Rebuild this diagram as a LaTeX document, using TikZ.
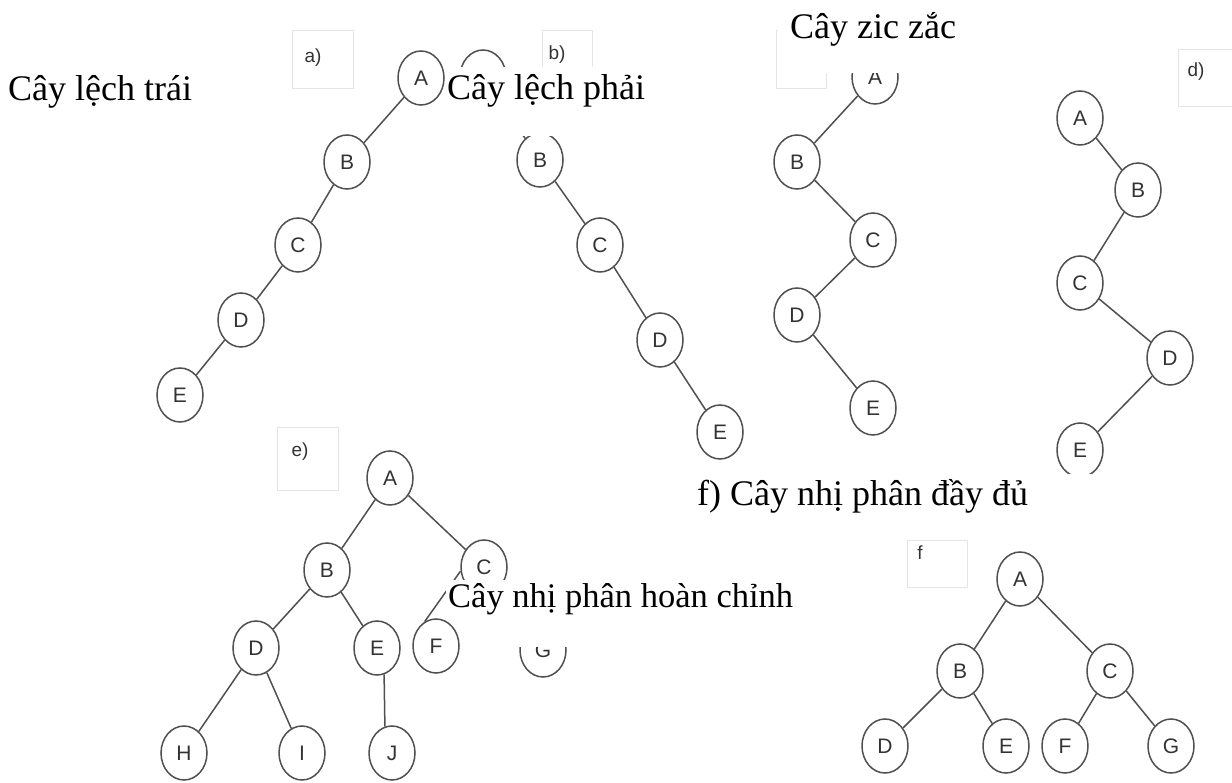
\documentclass[tikz,border=0pt]{standalone}
\usepackage{fontspec}
\setmainfont{Liberation Serif}
\newfontfamily\nodefont{Liberation Sans}
\usetikzlibrary{shapes.geometric}
\definecolor{edgec}{HTML}{505050}
\definecolor{txtc}{HTML}{333333}
\definecolor{boxc}{HTML}{E4E4E4}
\begin{document}
\begin{tikzpicture}[x=1pt,y=-1pt,
  tn/.style={ellipse, draw=edgec, line width=1.5pt, minimum width=46pt, minimum height=54pt, inner sep=0pt, fill=white, text=txtc, font=\nodefont\fontsize{21}{21}\selectfont},
  ed/.style={draw=edgec, line width=1.5pt},
  lbl/.style={anchor=base west, inner sep=0pt, text=black, font=\fontsize{36}{40}\selectfont},
  maskr/.style={fill=white, draw=none},
  tagbox/.style={draw=boxc, line width=0.8pt},
  tagtxt/.style={text=txtc, inner sep=0pt, font=\nodefont\fontsize{19}{19}\selectfont}]
\useasboundingbox[fill=white] (0,0) rectangle (1232,783);

% tag boxes
\draw[tagbox] (292,30) rectangle (353,88);
\node[tagtxt] (ta) at (313,58) {a)};
\draw[tagbox] (542,30) rectangle (592,90);
\node[tagtxt] (tb) at (557,55) {b)};
\draw[tagbox] (776,30) rectangle (826,88);
\draw[tagbox] (1178,49) rectangle (1240,106);
\node[tagtxt] (td) at (1196,72) {d)};
\draw[tagbox] (277,427) rectangle (338,490);
\node[tagtxt] (te) at (300,452) {e)};
\draw[tagbox] (907,540) rectangle (967,587);
\node[tagtxt] (tf) at (920,553) {f};

% tree a
\node[tn] (aA) at (421,78) {A};
\node[tn] (aB) at (347,162) {B};
\node[tn] (aC) at (298,245) {C};
\node[tn] (aD) at (241,320) {D};
\node[tn] (aE) at (180,395) {E};
\draw[ed] (aA) -- (aB) (aB) -- (aC) (aC) -- (aD) (aD) -- (aE);

% tree b
\node[tn] (bA) at (483,77) {};
\node[tn] (bB) at (540,160) {B};
\node[tn] (bC) at (600,245) {C};
\node[tn] (bD) at (660,340) {D};
\node[tn] (bE) at (720,432) {E};
\draw[ed] (bA) -- (bB) (bB) -- (bC) (bC) -- (bD) (bD) -- (bE);

% tree c
\node[tn] (cA) at (875,77) {A};
\node[tn] (cB) at (797,162) {B};
\node[tn] (cC) at (873,240) {C};
\node[tn] (cD) at (797,315) {D};
\node[tn] (cE) at (873,408) {E};
\draw[ed] (cA) -- (cB) (cB) -- (cC) (cC) -- (cD) (cD) -- (cE);

% tree d
\node[tn] (dA) at (1080,118) {A};
\node[tn] (dB) at (1138,190) {B};
\node[tn] (dC) at (1080,283) {C};
\node[tn] (dD) at (1170,358) {D};
\node[tn] (dE) at (1080,450) {E};
\draw[ed] (dA) -- (dB) (dB) -- (dC) (dC) -- (dD) (dD) -- (dE);

% tree e
\node[tn] (eA) at (390,478) {A};
\node[tn] (eB) at (327,570) {B};
\node[tn] (eC) at (484,567) {C};
\node[tn] (eD) at (256,648) {D};
\node[tn] (eE) at (377,648) {E};
\node[tn] (eF) at (436,646) {F};
\node[tn] (eG) at (543,650) {G};
\node[tn] (eH) at (184,753) {H};
\node[tn] (eI) at (302,753) {I};
\node[tn] (eJ) at (392,753) {J};
\draw[ed] (eA) -- (eB) (eA) -- (eC) (eB) -- (eD) (eB) -- (eE)
          (eD) -- (eH) (eD) -- (eI) (eE.-75) -- (eJ.105)
          (eC.190) -- (eF.115) (eC) -- (eG);

% tree f
\node[tn] (fA) at (1020,579) {A};
\node[tn] (fB) at (960,671) {B};
\node[tn] (fC) at (1110,671) {C};
\node[tn] (fD) at (885,746) {D};
\node[tn] (fE) at (1006,746) {E};
\node[tn] (fF) at (1065,746) {F};
\node[tn] (fG) at (1171,746) {G};
\draw[ed] (fA) -- (fB) (fA) -- (fC) (fB) -- (fD) (fB) -- (fE) (fC) -- (fF) (fC) -- (fG);

% occluding white areas
\fill[maskr] (446,67) rectangle (662,136);
\fill[maskr] (778,0) rectangle (965,73);
\fill[maskr] (446,580) rectangle (800,617);
\fill[maskr] (505,617) rectangle (580,647);
\fill[maskr] (1040,474) rectangle (1130,520);

% labels
\node[lbl] (l1) at (8,101) {Cây lệch trái};
\node[lbl] (l2) at (447,100) {Cây lệch phải};
\node[lbl] (l3) at (790,39) {Cây zic zắc};
\node[lbl] (l4) at (697,505) {f) Cây nhị phân đầy đủ};
\node[lbl, font=\fontsize{34.5}{38}\selectfont] (l5) at (448,607) {Cây nhị phân hoàn chỉnh};
\end{tikzpicture}
\end{document}
